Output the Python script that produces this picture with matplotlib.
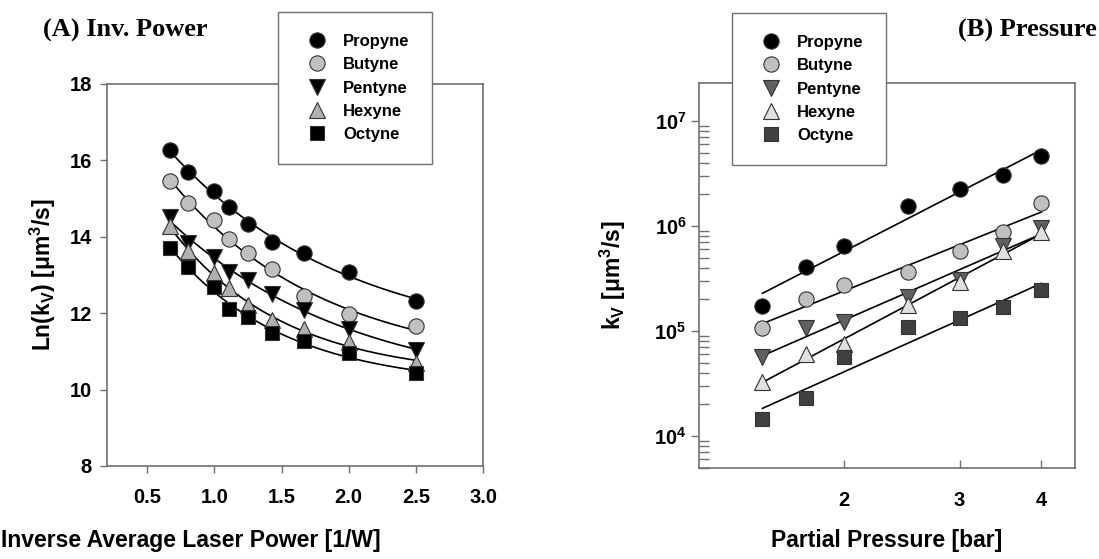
import numpy as np
import matplotlib
matplotlib.use("Agg")
import matplotlib.pyplot as plt
from matplotlib.ticker import FixedLocator, NullFormatter, FuncFormatter

# compuse / legenda
names = ["Propyne", "Butyne", "Pentyne", "Hexyne", "Octyne"]

# (A) inverse average laser power [1/W] vs Ln(kV)
inv_power = [0.667, 0.8, 1.0, 1.111, 1.25, 1.429, 1.667, 2.0, 2.5]
ln_propyne = [16.27, 15.69, 15.21, 14.79, 14.33, 13.87, 13.57, 13.07, 12.32]
ln_butyne = [15.46, 14.88, 14.44, 13.93, 13.57, 13.15, 12.45, 11.97, 11.67]
ln_pentyne = [14.53, 13.83, 13.48, 13.09, 12.87, 12.50, 12.08, 11.58, 11.04]
ln_hexyne = [14.28, 13.63, 13.06, 12.65, 12.21, 11.82, 11.58, 11.25, 10.69]
ln_octyne = [13.71, 13.22, 12.68, 12.11, 11.91, 11.47, 11.28, 10.95, 10.43]

# (B) partial pressure [bar] vs kV [um^3/s]
pressure = [1.5, 1.75, 2.0, 2.5, 3.0, 3.5, 4.0]
kv_propyne = [1.73e5, 4.03e5, 6.47e5, 1.56e6, 2.23e6, 3.08e6, 4.67e6]
kv_butyne = [1.07e5, 2.01e5, 2.74e5, 3.66e5, 5.77e5, 8.81e5, 1.66e6]
kv_pentyne = [5.66e4, 1.08e5, 1.22e5, 2.09e5, 3.05e5, 6.43e5, 9.5e5]
kv_hexyne = [3.27e4, 6.1e4, 7.48e4, 1.76e5, 2.94e5, 5.77e5, 8.69e5]
kv_octyne = [1.47e4, 2.32e4, 5.66e4, 1.09e5, 1.32e5, 1.7e5, 2.45e5]

plt.rcParams['font.family'] = ['Liberation Sans', 'DejaVu Sans']
plt.rcParams['font.weight'] = 'bold'
plt.rcParams['axes.labelweight'] = 'bold'
plt.rcParams['mathtext.fontset'] = 'custom'
plt.rcParams['mathtext.rm'] = 'Liberation Sans:bold'
plt.rcParams['mathtext.it'] = 'Liberation Sans:bold'
plt.rcParams['mathtext.bf'] = 'Liberation Sans:bold'

SPINE = '#707070'
LABEL_FS = 16.5
TICK_FS = 14.5
LEG_KW = dict(fontsize=12, frameon=True, fancybox=False, borderpad=1.32,
              labelspacing=0.5, handlelength=2.0, handletextpad=0.6,
              borderaxespad=0, framealpha=1)


def fit_exp(x, y):
    # y = a + b*exp(-c x), cautare simpla dupa c
    x = np.asarray(x)
    y = np.asarray(y)
    best = None
    for c in np.linspace(0.2, 5, 400):
        A = np.column_stack([np.ones_like(x), np.exp(-c * x)])
        coef, *_ = np.linalg.lstsq(A, y, rcond=None)
        err = np.sum((A @ coef - y) ** 2)
        if best is None or err < best[0]:
            best = (err, c, coef)
    _, c, (a, b) = best
    xs = np.linspace(x.min(), x.max(), 200)
    return xs, a + b * np.exp(-c * xs)


def style_legend(leg):
    fr = leg.get_frame()
    fr.set_edgecolor(SPINE)
    fr.set_linewidth(1.0)
    fr.set_boxstyle('square', pad=0)


fig = plt.figure(figsize=(10.99, 5.59), dpi=100)

# ---------------- (A) ----------------
axA = fig.add_axes([0.0974, 0.1664, 0.3421, 0.6834])
series_A = [ln_propyne, ln_butyne, ln_pentyne, ln_hexyne, ln_octyne]
marks_A = [('o', 'black'), ('o', '#c0c0c0'), ('v', 'black'), ('^', '#b0b0b0'), ('s', 'black')]
handles = []
for vals, (m, fc), nm in zip(series_A, marks_A, names):
    xs, ys = fit_exp(inv_power, vals)
    axA.plot(xs, ys, color='black', lw=1.2, zorder=2)
    h, = axA.plot(inv_power, vals, ls='none', marker=m, ms=11 if m != 's' else 10,
                  mfc=fc, mec='#333333', mew=0.8, zorder=3, label=nm)
    handles.append(h)

axA.set_xlim(0.2, 3.0)
axA.set_ylim(8, 18)
axA.set_xticks([0.5, 1.0, 1.5, 2.0, 2.5, 3.0])
axA.set_yticks([8, 10, 12, 14, 16, 18])
axA.xaxis.set_major_formatter(FuncFormatter(lambda v, p: f"{v:.1f}"))
axA.tick_params(direction='out', length=5, width=1, color=SPINE, labelsize=TICK_FS)
axA.tick_params(axis='x', pad=11)
axA.tick_params(axis='y', pad=6)
axA.set_ylabel("Ln(k$_\\mathregular{V}$) [μm$^\\mathregular{3}$/s]", fontsize=LABEL_FS)
axA.yaxis.set_label_coords(-0.13, 0.5)
for s in axA.spines.values():
    s.set_color(SPINE)
    s.set_linewidth(1.2)
fig.text(191 / 1099, 1 - 540 / 559, "Inverse Average Laser Power [1/W]",
         ha='center', va='center', fontsize=LABEL_FS, fontweight='bold')
fig.text(43 / 1099, 1 - 30 / 559, "(A) Inv. Power", ha='left', va='center',
         fontsize=19, fontweight='bold', family='Liberation Serif')

legA = fig.legend(handles=handles, loc='upper left',
                  bbox_to_anchor=(278 / 1099, 1 - 12 / 559), **LEG_KW)
style_legend(legA)

# ---------------- (B) ----------------
axB = fig.add_axes([0.636, 0.1633, 0.3421, 0.6882])
series_B = [kv_propyne, kv_butyne, kv_pentyne, kv_hexyne, kv_octyne]
marks_B = [('o', 'black'), ('o', '#c0c0c0'), ('v', '#606060'), ('^', '#e0e0e0'), ('s', '#404040')]
handles = []
lx = np.log(pressure)
for vals, (m, fc), nm in zip(series_B, marks_B, names):
    k, b = np.polyfit(lx, np.log(vals), 1)
    xs = np.linspace(lx.min(), lx.max(), 50)
    axB.plot(np.exp(xs), np.exp(k * xs + b), color='black', lw=1.2, zorder=2)
    h, = axB.plot(pressure, vals, ls='none', marker=m, ms=11 if m != 's' else 10,
                  mfc=fc, mec='#333333', mew=0.8, zorder=3, label=nm)
    handles.append(h)

axB.set_xscale('log')
axB.set_yscale('log')
axB.set_xlim(1.2, 4.5)
axB.set_ylim(5e3, 2.3e7)
axB.xaxis.set_major_locator(FixedLocator([2, 3, 4]))
axB.xaxis.set_major_formatter(FuncFormatter(lambda v, p: f"{v:g}"))
axB.xaxis.set_minor_locator(FixedLocator([]))
axB.yaxis.set_major_locator(FixedLocator([1e4, 1e5, 1e6, 1e7]))
axB.yaxis.set_major_formatter(FuncFormatter(lambda v, p: "$10^{%d}$" % round(np.log10(v))))
minor = [s * 10.0 ** d for d in range(3, 7) for s in range(2, 10)]
axB.yaxis.set_minor_locator(FixedLocator([v for v in minor if v >= 5e3]))
axB.yaxis.set_minor_formatter(NullFormatter())
axB.tick_params(axis='x', which='major', direction='in', length=6, width=1,
                color=SPINE, labelsize=TICK_FS, pad=17)
axB.tick_params(axis='y', which='major', direction='out', length=6, width=1,
                color=SPINE, labelsize=TICK_FS, pad=3)
axB.tick_params(axis='y', which='minor', direction='in', length=7, width=1, color=SPINE)
axB.set_ylabel("k$_\\mathregular{V}$ [μm$^\\mathregular{3}$/s]", fontsize=LABEL_FS)
axB.yaxis.set_label_coords(-0.189, 0.5)
for s in axB.spines.values():
    s.set_color(SPINE)
    s.set_linewidth(1.2)
fig.text(887 / 1099, 1 - 540 / 559, "Partial Pressure [bar]",
         ha='center', va='center', fontsize=LABEL_FS, fontweight='bold')
fig.text(1097 / 1099, 1 - 30 / 559, "(B) Pressure", ha='right', va='center',
         fontsize=19, fontweight='bold', family='Liberation Serif')

legB = fig.legend(handles=handles, loc='upper left',
                  bbox_to_anchor=(732 / 1099, 1 - 13 / 559), **LEG_KW)
style_legend(legB)

fig.savefig("out.png", dpi=100)
